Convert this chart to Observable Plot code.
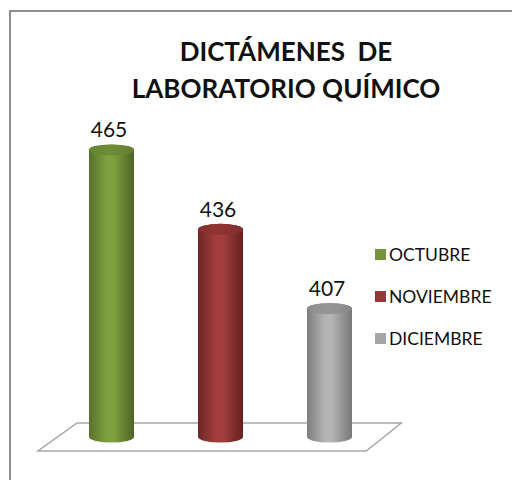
<!DOCTYPE html>
<html>
<head>
<meta charset="utf-8">
<script src="https://cdn.jsdelivr.net/npm/d3@7"></script>
<script src="https://cdn.jsdelivr.net/npm/@observablehq/plot@0.6"></script>
<style>
  html, body { margin: 0; padding: 0; background: #fff; overflow: hidden; }
  #wrap { position: relative; width: 512px; height: 480px; overflow: hidden; font-family: Lato, "Open Sans", sans-serif; }
  #frame { position: absolute; left: 9px; top: 10px; width: 600px; height: 600px; border: 2px solid #8e8e8e; box-sizing: border-box; }
  #title { position: absolute; left: 0; width: 572px; top: 33px; text-align: center; font-weight: bold; font-size: 26px; line-height: 37px; color: #111; white-space: pre; }
  .leg { position: absolute; left: 375px; font-size: 17.5px; color: #111; display: flex; align-items: center; }
  .leg span.sw { display: inline-block; width: 11px; height: 11px; margin-right: 3px; }
  #chart { position: absolute; left: 0; top: 0; }
</style>
</head>
<body>
<div id="wrap">
  <div id="frame"></div>
  <div id="chart"></div>
  <div id="title">DICTÁMENES  DE
LABORATORIO QUÍMICO</div>
</div>
<script>
const months = ["OCTUBRE", "NOVIEMBRE", "DICIEMBRE"];
const values = [465, 436, 407];
const bodyColors = [["#58722a", "#7fa03f", "#4c6423"], ["#6e2624", "#a23e3c", "#66211f"], ["#7e7e7e", "#b4b4b4", "#777777"]];
const capColors = ["#6e8d35", "#8f3432", "#969696"];
const legendColors = ["#77933c", "#953735", "#a6a6a6"];

const data = months.map((m, i) => ({month: m, value: values[i], i}));
const yMin = 360;

const floor = (index, scales) => {
  const x = scales.x, y = scales.y;
  const left = x(months[0]);
  const right = x(months[2]);
  const step = (right - left) / 2;
  const bw = step * 0.415;
  const base = y(yMin);
  const p = [
    [left - 12, base - 14],
    [right + bw + 49, base - 14],
    [right + bw + 14, base + 14],
    [left - 51, base + 14]
  ];
  const path = document.createElementNS("http://www.w3.org/2000/svg", "path");
  path.setAttribute("d", "M" + p.map(q => q.join(",")).join("L") + "Z");
  path.setAttribute("fill", "#fff");
  path.setAttribute("stroke", "#a6a6a6");
  path.setAttribute("stroke-width", "1.5");
  return path;
};

const marks = [floor];
data.forEach((d, k) => {
  marks.push(Plot.barY([d], {x: "month", y1: () => yMin, y2: "value", fill: `url(#body${k})`, rx: 22.5, ry: 5.5, insetTop: -5.5, insetBottom: -5.5}));
  marks.push(Plot.barY([d], {x: "month", y1: "value", y2: "value", fill: `url(#cap${k})`, rx: 22.5, ry: 5.5, insetTop: -5.5, insetBottom: -5.5}));
});
marks.push(Plot.text(data, {x: "month", y: "value", text: d => String(d.value), dy: -20, dx: -3, fontSize: 21, fill: "#111", fontFamily: "Lato, 'Open Sans', sans-serif"}));

const svg = Plot.plot({
  width: 512,
  height: 480,
  marginTop: 0, marginBottom: 0, marginLeft: 0, marginRight: 0,
  x: {domain: months, range: [57, 384], paddingInner: 0.585, paddingOuter: 0.2925, axis: null},
  y: {domain: [yMin, 465], range: [437, 150], axis: null},
  style: {background: "transparent"},
  marks
});

const defs = d3.select(svg).insert("defs", ":first-child");
bodyColors.forEach((c, k) => {
  const g = defs.append("linearGradient").attr("id", `body${k}`).attr("x1", 0).attr("x2", 1).attr("y1", 0).attr("y2", 0);
  g.append("stop").attr("offset", "0%").attr("stop-color", c[0]);
  g.append("stop").attr("offset", "40%").attr("stop-color", c[1]);
  g.append("stop").attr("offset", "55%").attr("stop-color", c[1]);
  g.append("stop").attr("offset", "100%").attr("stop-color", c[2]);
  const h = defs.append("linearGradient").attr("id", `cap${k}`).attr("x1", 0).attr("x2", 1).attr("y1", 0).attr("y2", 0);
  h.append("stop").attr("offset", "0%").attr("stop-color", d3.color(capColors[k]).darker(0.15));
  h.append("stop").attr("offset", "50%").attr("stop-color", capColors[k]);
  h.append("stop").attr("offset", "100%").attr("stop-color", d3.color(capColors[k]).darker(0.3));
});

document.getElementById("chart").appendChild(svg);

const legTops = [244, 286, 328];
const wrap = document.getElementById("wrap");
months.forEach((m, i) => {
  const el = document.createElement("div");
  el.className = "leg";
  el.style.top = legTops[i] + "px";
  el.innerHTML = `<span class="sw" style="background:${legendColors[i]}"></span>${m}`;
  wrap.appendChild(el);
});
</script>
</body>
</html>
